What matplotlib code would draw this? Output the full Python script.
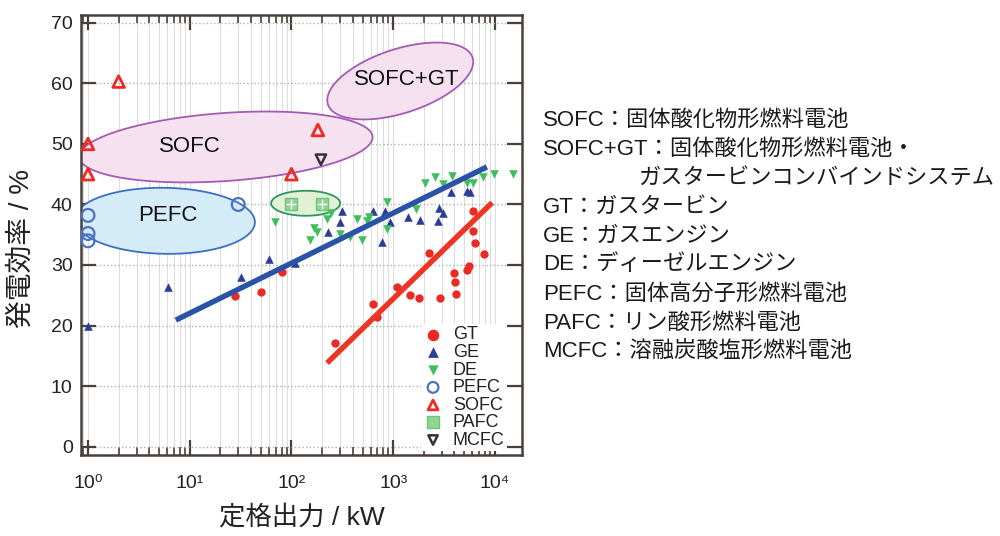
import numpy as np
import matplotlib
matplotlib.use('Agg')
import matplotlib.pyplot as plt

plt.rcParams['font.family'] = ['Liberation Sans', 'Noto Sans CJK JP', 'DejaVu Sans']

# ---------------- data ----------------
gt_x = [28, 50, 81, 270, 635, 690, 1090, 1470, 1790, 2240, 2900, 3960, 4070, 4160, 5350, 5600, 6100, 6400, 6100, 7800]
gt_y = [24.9, 25.5, 28.8, 17.1, 23.5, 21.4, 26.4, 25.0, 24.5, 32.0, 24.5, 28.6, 27.2, 25.2, 29.2, 29.8, 35.6, 33.6, 38.9, 31.8]

ge_x = [1, 6.1, 32, 60, 109, 230, 300, 314, 633, 780, 830, 930, 1400, 1820, 2770, 2850, 3100, 3700, 5350, 5700]
ge_y = [20, 26.4, 28, 31, 30.3, 35.4, 37.1, 38.9, 38.9, 33.8, 38.9, 37.1, 37.9, 37.4, 37.3, 39.4, 38.6, 42, 42.2, 42]

de_x = [69, 152, 165, 178, 224, 245, 300, 375, 440, 490, 550, 580, 870, 880, 1680, 2050, 2600, 3100, 3800, 5300, 6100, 7600, 9800, 15000]
de_y = [37.1, 34.1, 36.1, 35.4, 37.6, 38.6, 35.2, 34.7, 37.6, 34.2, 37.3, 37.9, 40.4, 36.0, 39.3, 43.5, 44.6, 43.4, 44.7, 43.5, 43.5, 44.6, 45.0, 45.0]

pefc_x = [1, 1, 1, 30]
pefc_y = [38.2, 35.2, 34.0, 40.0]

sofc_x = [1, 1, 2, 100, 182]
sofc_y = [50, 45, 60.3, 45, 52.3]

pafc_x = [100, 200]
pafc_y = [40, 40]

mcfc_x = [195]
mcfc_y = [47.4]

blue_line_x = [7.3, 8350]
blue_line_y = [20.9, 46.2]
red_line_x = [224, 9400]
red_line_y = [13.8, 40.3]

xtick_vals = [1, 10, 100, 1000, 10000]
xtick_labels = ['10⁰', '10¹', '10²', '10³', '10⁴']
ytick_vals = [0, 10, 20, 30, 40, 50, 60, 70]

# ellipse groups: label, centre x (kW), centre y (%), label x, label y
ell_names = ['SOFC+GT', 'SOFC', 'PEFC', 'PAFC']
ell_cx = [1175, 22.7, 5.7, 138]
ell_cy = [60.4, 49.5, 37.3, 40.2]
ell_label = ['SOFC+GT', 'SOFC', 'PEFC', '']
ell_lx = [1370, 10.1, 6.1, 138]
ell_ly = [60.7, 49.5, 38.1, 40.2]

legend_names = ['GT', 'GE', 'DE', 'PEFC', 'SOFC', 'PAFC', 'MCFC']

abbr_lines = [
    'SOFC：固体酸化物形燃料電池',
    'SOFC+GT：固体酸化物形燃料電池・',
    'ガスタービンコンバインドシステム',
    'GT：ガスタービン',
    'GE：ガスエンジン',
    'DE：ディーゼルエンジン',
    'PEFC：固体高分子形燃料電池',
    'PAFC：リン酸形燃料電池',
    'MCFC：溶融炭酸塩形燃料電池',
]

# ---------------- figure ----------------
fig = plt.figure(figsize=(10, 5.36), dpi=100)
ax = fig.add_axes([0.081, 0.151, 0.441, 0.821])
ax.set_xscale('log')
ax.set_xlim(0.853, 18500)
ax.set_ylim(-1.4, 71.3)

spine_c = '#4a403a'
for s in ax.spines.values():
    s.set_color(spine_c)
    s.set_linewidth(1.8)

ax.set_xticks(xtick_vals, xtick_labels)
ax.set_yticks(ytick_vals)
ax.tick_params(which='major', direction='in', length=11, width=1.6, color=spine_c,
               top=True, right=True, labelsize=14, labelcolor='#222222')
ax.tick_params(which='minor', direction='in', length=6, width=1.2, color=spine_c,
               top=True, right=True)
ax.tick_params(axis='x', which='major', pad=14)
ax.tick_params(axis='y', which='major', pad=6)
ax.yaxis.set_minor_locator(matplotlib.ticker.NullLocator())

ax.grid(axis='x', which='both', color='#dcdcdc', lw=0.7, ls='-', zorder=0)
ax.grid(axis='y', which='major', color='#b0b0b0', lw=1.0, ls=':', zorder=0)
ax.set_axisbelow(True)

fig.canvas.draw()

# ellipses (sizes in pixels, drawn via data transform)
ell_a = [76, 147, 90, 34.5]
ell_b = [32, 34, 33, 12.5]
ell_ang = [18, 4, -1, 0]
ell_face = ['#f5e0f0', '#f6e1f0', '#d4ecf8', '#e2f1d6']
ell_edge = ['#a55bb3', '#a55bb3', '#3c6fc2', '#2e9560']
t = np.linspace(0, 2 * np.pi, 300)
inv = ax.transData.inverted()
for i in range(len(ell_names)):
    cxp, cyp = ax.transData.transform((ell_cx[i], ell_cy[i]))
    th = np.deg2rad(ell_ang[i])
    u = ell_a[i] * np.cos(t) * np.cos(th) - ell_b[i] * np.sin(t) * np.sin(th)
    v = ell_a[i] * np.cos(t) * np.sin(th) + ell_b[i] * np.sin(t) * np.cos(th)
    pts = inv.transform(np.column_stack([cxp + u, cyp + v]))
    ax.fill(pts[:, 0], pts[:, 1], facecolor=ell_face[i], edgecolor=ell_edge[i],
            lw=1.3, zorder=1)
    if ell_label[i]:
        ax.text(ell_lx[i], ell_ly[i], ell_label[i], fontsize=16, ha='center', va='center',
                color='#111111', zorder=2)

# scatter
h_gt = ax.scatter(gt_x, gt_y, s=36, marker='o', color='#ea2b25', zorder=4, linewidths=0)
h_ge = ax.scatter(ge_x, ge_y, s=38, marker='^', color='#2d3c98', zorder=4, linewidths=0)
h_de = ax.scatter(de_x, de_y, s=38, marker='v', color='#3fbe5c', zorder=4, linewidths=0)
h_pefc = ax.scatter(pefc_x, pefc_y, s=85, marker='o', facecolors='none', edgecolors='#4a72c4',
                    linewidths=1.6, zorder=4)
h_sofc = ax.scatter(sofc_x, sofc_y, s=70, marker='^', facecolors='none', edgecolors='#ee2a24',
                    linewidths=2.0, zorder=4)
h_pafc = ax.scatter(pafc_x, pafc_y, s=75, marker='s', color='#92d392', edgecolors='#6cc47c',
                    linewidths=1.0, zorder=4)
ax.scatter(pafc_x, pafc_y, s=60, marker='+', color='white', linewidths=1.0, zorder=5)
h_mcfc = ax.scatter(mcfc_x, mcfc_y, s=55, marker='v', facecolors='none', edgecolors='#333333',
                    linewidths=1.8, zorder=4)

# trend lines
ax.plot(blue_line_x, blue_line_y, color='#2a52a6', lw=3.9, solid_capstyle='butt', zorder=6)
ax.plot(red_line_x, red_line_y, color='#ee3524', lw=3.9, solid_capstyle='butt', zorder=6)

leg = ax.legend([h_gt, h_ge, h_de, h_pefc, h_sofc, h_pafc, h_mcfc], legend_names,
                loc='lower right', bbox_to_anchor=(0.975, 0.0), fontsize=13,
                frameon=True, framealpha=1, facecolor='white', edgecolor='none',
                labelspacing=0.03, handlelength=1.0, handletextpad=0.6, borderpad=0.15,
                borderaxespad=0.2, scatterpoints=1)
leg.set_zorder(7)
leg_sizes = [70, 60, 55, 60, 50, 70, 45]
for hnd, sz in zip(leg.legend_handles, leg_sizes):
    hnd.set_sizes([sz])
for txt in leg.get_texts():
    txt.set_color('#222222')

ax.set_xlabel('定格出力 / kW', fontsize=19, labelpad=10, color='#222222')
ax.set_ylabel('発電効率 / %', fontsize=20, color='#222222')
ax.yaxis.set_label_coords(-0.105, 0.47)

# abbreviation list on the right
y0 = 120
dy = 29
for i, line in enumerate(abbr_lines):
    xpix = 638 if i == 2 else 543
    fig.text(xpix / 1000, 1 - (y0 + i * dy) / 536, line, fontsize=16, ha='left', va='center',
             color='#1a1a1a')

fig.savefig('out.png', dpi=100, facecolor='white')
